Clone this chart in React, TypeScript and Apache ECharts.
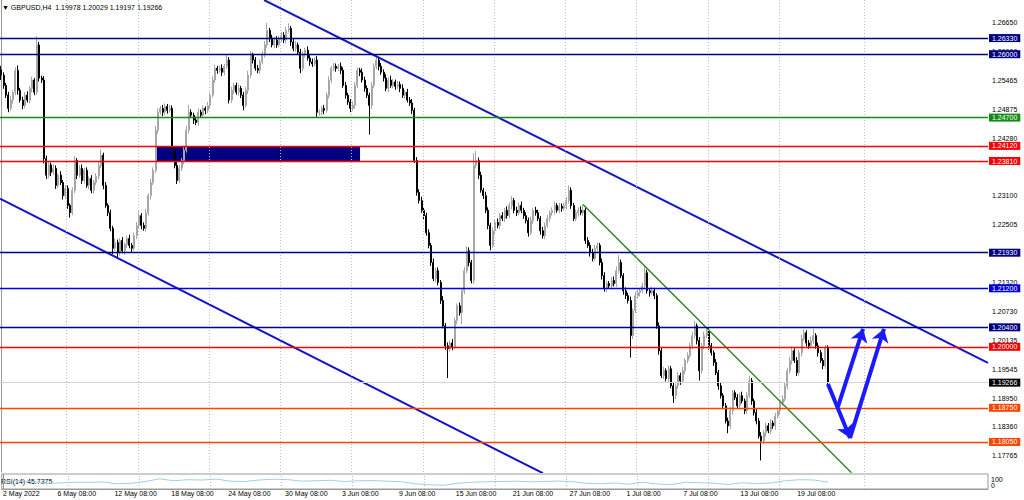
import React, { useEffect, useRef } from "react";
import * as echarts from "echarts";

// ---- data (prices in pips: value / 10000) ----
const PIP = 10000;
const firstOpen = 12568;
const closes = [
  12557, 12536, 12516, 12489, 12506, 12522, 12567, 12526, 12506, 12495,
  12516, 12506, 12530, 12547, 12522, 12619, 12551, 12547, 12386, 12352,
  12373, 12358, 12366, 12331, 12352, 12337, 12310, 12325, 12290, 12275,
  12321, 12382, 12352, 12366, 12341, 12362, 12331, 12345, 12321, 12337,
  12350, 12372, 12393, 12331, 12290, 12275, 12243, 12202, 12214, 12193,
  12218, 12197, 12210, 12222, 12208, 12202, 12228, 12249, 12269, 12249,
  12243, 12275, 12310, 12337, 12362, 12444, 12481, 12489, 12481, 12493,
  12485, 12489, 12403, 12372, 12341, 12366, 12382, 12403, 12444, 12481,
  12475, 12465, 12460, 12481, 12475, 12489, 12485, 12495, 12516, 12547,
  12571, 12567, 12571, 12563, 12575, 12588, 12506, 12526, 12536, 12522,
  12530, 12516, 12495, 12526, 12557, 12598, 12588, 12571, 12567, 12584,
  12600, 12619, 12649, 12633, 12619, 12629, 12619, 12633, 12639, 12629,
  12649, 12653, 12625, 12612, 12619, 12604, 12571, 12600, 12608, 12592,
  12584, 12580, 12588, 12481, 12481, 12489, 12485, 12516, 12547, 12571,
  12575, 12571, 12575, 12567, 12536, 12516, 12502, 12489, 12495, 12536,
  12567, 12563, 12547, 12530, 12516, 12495, 12536, 12575, 12588, 12575,
  12563, 12551, 12530, 12547, 12536, 12543, 12534, 12538, 12530, 12516,
  12522, 12506, 12500, 12485, 12382, 12317, 12300, 12280, 12269, 12234,
  12208, 12173, 12140, 12156, 12132, 12095, 12043, 12002, 11996, 12008,
  12000, 12054, 12084, 12070, 12115, 12156, 12197, 12173, 12136, 12372,
  12382, 12352, 12321, 12310, 12280, 12249, 12208, 12238, 12255, 12249,
  12269, 12263, 12280, 12269, 12290, 12300, 12280, 12275, 12290, 12280,
  12269, 12259, 12234, 12259, 12280, 12275, 12263, 12238, 12228, 12249,
  12263, 12275, 12280, 12290, 12280, 12288, 12284, 12290, 12300, 12321,
  12290, 12263, 12275, 12280, 12275, 12280, 12218, 12208, 12193, 12181,
  12202, 12208, 12173, 12146, 12119, 12130, 12125, 12136, 12130, 12156,
  12173, 12146, 12115, 12105, 12095, 12023, 12074, 12105, 12111, 12115,
  12125, 12152, 12115, 12111, 12115, 12105, 12043, 11992, 11941, 11951,
  11935, 11955, 11920, 11900, 11920, 11941, 11930, 11951, 11972, 11982,
  12002, 12023, 12043, 12013, 11951, 12002, 12023, 12033, 12002, 11988,
  11968, 11947, 11920, 11900, 11879, 11848, 11838, 11869, 11906, 11896,
  11879, 11900, 11889, 11869, 11900, 11930, 11889, 11865, 11848, 11817,
  11807, 11824, 11838, 11828, 11844, 11838, 11858, 11869, 11885, 11893,
  11920, 11951, 11972, 11992, 11972, 11947, 11988, 12017, 12029, 12008,
  12002, 12013, 12023, 12002, 11988, 11972, 11961, 11998, 11927,
];
const upperWicks = [
  8, 6, 5, 7, 9, 4, 6, 10, 5, 7,
  6, 8, 5, 7, 4, 18, 6, 5, 8, 6,
  7, 5, 9, 6, 4, 8, 5, 7, 6, 4,
  6, 9, 5, 7, 8, 5, 6, 4, 7, 5,
  6, 8, 12, 5, 7, 4, 6, 5, 8, 6,
  5, 7, 4, 6, 8, 5, 6, 7, 9, 5,
  6, 8, 5, 7, 6, 9, 8, 5, 7, 6,
  5, 7, 6, 4, 8, 6, 5, 7, 9, 15,
  6, 5, 7, 8, 5, 6, 4, 7, 6, 8,
  7, 5, 6, 8, 5, 10, 6, 7, 5, 6,
  8, 5, 7, 6, 9, 8, 5, 6, 7, 5,
  6, 8, 15, 5, 7, 6, 8, 5, 7, 6,
  7, 10, 5, 6, 8, 5, 7, 6, 5, 8,
  6, 7, 5, 8, 6, 5, 7, 6, 8, 5,
  7, 6, 5, 8, 6, 7, 5, 6, 8, 7,
  6, 5, 8, 7, 6, 5, 7, 6, 12, 5,
  7, 6, 8, 5, 9, 6, 5, 7, 6, 8,
  5, 7, 6, 8, 5, 7, 6, 8, 5, 6,
  7, 5, 8, 6, 7, 5, 9, 6, 7, 5,
  8, 6, 5, 7, 6, 8, 9, 7, 5, 25,
  20, 6, 7, 5, 8, 6, 5, 7, 6, 8,
  6, 7, 5, 8, 6, 9, 5, 7, 6, 8,
  5, 7, 6, 8, 5, 7, 6, 5, 8, 6,
  7, 5, 6, 8, 5, 7, 6, 5, 7, 10,
  6, 5, 7, 6, 8, 12, 5, 7, 6, 8,
  7, 6, 5, 8, 7, 6, 5, 7, 8, 9,
  15, 6, 5, 7, 6, 8, 5, 7, 6, 5,
  7, 12, 6, 5, 8, 6, 5, 7, 6, 8,
  5, 7, 6, 8, 5, 7, 6, 8, 5, 7,
  6, 8, 10, 5, 7, 6, 8, 5, 7, 6,
  5, 7, 6, 8, 5, 6, 7, 8, 6, 5,
  7, 6, 8, 5, 7, 10, 6, 5, 7, 6,
  8, 5, 7, 6, 8, 5, 7, 6, 5, 8,
  7, 6, 8, 9, 5, 7, 6, 8, 7, 5,
  6, 8, 14, 5, 7, 6, 5, 6, 5,
];
const lowerWicks = [
  10, 7, 6, 8, 5, 7, 6, 9, 5, 8,
  6, 5, 7, 8, 6, 5, 7, 6, 10, 8,
  6, 8, 5, 7, 6, 5, 8, 6, 7, 10,
  5, 6, 8, 5, 7, 6, 5, 8, 6, 7,
  5, 7, 6, 8, 5, 7, 6, 12, 5, 10,
  6, 5, 8, 7, 6, 9, 5, 7, 6, 8,
  5, 7, 6, 8, 5, 6, 7, 5, 8, 6,
  7, 5, 8, 6, 7, 5, 6, 8, 5, 7,
  6, 8, 5, 7, 6, 5, 8, 6, 7, 5,
  6, 7, 5, 8, 6, 5, 7, 6, 8, 5,
  7, 6, 10, 5, 8, 6, 7, 5, 6, 8,
  5, 7, 6, 8, 5, 7, 6, 5, 8, 6,
  7, 5, 8, 6, 7, 5, 10, 6, 7, 5,
  8, 6, 5, 10, 7, 6, 8, 5, 7, 6,
  5, 7, 6, 8, 5, 7, 6, 8, 5, 7,
  6, 8, 5, 7, 6, 60, 7, 5, 6, 8,
  5, 7, 6, 8, 5, 6, 7, 5, 8, 6,
  7, 5, 6, 8, 5, 7, 6, 5, 8, 6,
  6, 7, 5, 8, 6, 7, 5, 8, 60, 6,
  7, 5, 8, 6, 24, 7, 5, 8, 6, 7,
  6, 8, 5, 7, 6, 8, 10, 5, 7, 6,
  8, 5, 7, 6, 5, 8, 6, 7, 5, 6,
  7, 6, 8, 5, 7, 6, 5, 8, 6, 7,
  5, 7, 6, 8, 5, 6, 7, 5, 8, 6,
  7, 5, 6, 8, 5, 6, 7, 5, 8, 6,
  5, 7, 6, 8, 6, 7, 5, 8, 6, 7,
  6, 5, 8, 7, 6, 45, 7, 5, 6, 8,
  5, 7, 6, 8, 5, 7, 6, 8, 5, 7,
  6, 8, 5, 15, 7, 6, 8, 5, 7, 6,
  5, 7, 6, 8, 20, 6, 7, 5, 8, 6,
  7, 5, 8, 6, 7, 5, 15, 6, 8, 5,
  6, 8, 5, 7, 6, 5, 8, 6, 7, 5,
  40, 6, 8, 5, 7, 6, 8, 5, 7, 6,
  5, 7, 6, 8, 5, 7, 6, 8, 5, 7,
  6, 5, 7, 6, 8, 5, 7, 6, 7,
];

const rsiIndex = [
  0, 6, 12, 18, 24, 30, 36, 42, 48, 54,
  60, 66, 72, 78, 84, 90, 96, 102, 108, 114,
  120, 126, 132, 138, 144, 150, 156, 162, 168, 174,
  180, 186, 192, 198, 204, 210, 216, 222, 228, 234,
  240, 246, 252, 258, 264, 270, 276, 282, 288, 294,
  300, 306, 312, 318, 324, 330, 336, 342, 348,
];
const rsiValues = [
  52, 55, 50, 38, 40, 45, 44, 47, 35, 38,
  50, 68, 55, 62, 60, 66, 52, 50, 60, 65,
  63, 52, 55, 58, 50, 55, 56, 52, 48, 35,
  28, 25, 38, 45, 48, 50, 52, 48, 50, 53,
  50, 38, 35, 40, 32, 45, 33, 30, 45, 42,
  38, 30, 42, 35, 40, 55, 62, 60, 45.7375,
];

const totalSlots = 416;
const timeTickIndex = [0, 23, 47, 71, 95, 119, 143, 167, 191, 215, 239, 263, 287, 311, 335];
const timeTickLabels = [
  "2 May 2022", "6 May 08:00", "12 May 08:00", "18 May 08:00", "24 May 08:00",
  "30 May 08:00", "3 Jun 08:00", "9 Jun 08:00", "15 Jun 08:00", "21 Jun 08:00",
  "27 Jun 08:00", "1 Jul 08:00", "7 Jul 08:00", "13 Jul 08:00", "19 Jul 08:00",
];
// week separators (bar boundary index)
const weekGridIndex = [28, 58, 88, 118, 148, 178, 208, 238, 268, 298, 328, 364];
const priceTicks = [
  1.2665, 1.2606, 1.25465, 1.24875, 1.2428, 1.231, 1.22505,
  1.2132, 1.2073, 1.20135, 1.19545, 1.1895, 1.1836, 1.17765,
];

const levelPrices = [1.2633, 1.26, 1.247, 1.2412, 1.2381, 1.2193, 1.212, 1.204, 1.2, 1.1875, 1.1805];
const levelColors = ["#000080", "#000080", "#158a15", "#ff0000", "#ff0000", "#000080", "#0000dd", "#000080", "#ff0000", "#ff4500", "#ff4500"];
const bidPrice = 1.19266;

// trend lines: [barIndex, price]
const upperTrend = [[110.7, 1.2711], [415.5, 1.1967]];
const lowerTrend = [[-0.5, 1.2304], [228.1, 1.1741]];
const greenTrend = [[245, 1.2292], [358.2, 1.1741]];
const zoneBox = [[65.6, 1.2412], [151.1, 1.2381]];
const arrows = [
  [[348.1, 1.1924], [357.4, 1.1813]],
  [[352.3, 1.1877], [362.9, 1.2037]],
  [[357.4, 1.1813], [371.7, 1.2037]],
];

const FONT = "Liberation Sans";

export default function App() {
  const ref = useRef<HTMLDivElement>(null);
  useEffect(() => {
    if (!ref.current) return;
    const chart = echarts.init(ref.current, undefined, { renderer: "svg" });

    const candles = closes.map((c, i) => {
      const o = i === 0 ? firstOpen : closes[i - 1];
      const hi = Math.max(o, c) + upperWicks[i];
      const lo = Math.min(o, c) - lowerWicks[i];
      return [o / PIP, c / PIP, lo / PIP, hi / PIP];
    });
    const cats = Array.from({ length: totalSlots }, (_, i) => String(i));
    const labelMap = new Map<number, string>();
    timeTickIndex.forEach((idx, k) => labelMap.set(idx, timeTickLabels[k]));

    const tagLabel = (text: string, bg: string) => ({
      show: true,
      position: "end",
      distance: 1,
      formatter: text,
      backgroundColor: bg,
      color: "#ffffff",
      fontSize: 7,
      fontFamily: FONT,
      padding: [1, 3, 0, 3],
    });
    const levelLines: any[] = levelPrices.map((p, k) => ({
      yAxis: p,
      lineStyle: { color: levelColors[k], width: 1.3, type: "solid" },
      label: tagLabel(p.toFixed(5), levelColors[k]),
    }));
    levelLines.unshift({
      yAxis: bidPrice,
      lineStyle: { color: "#d4d4d4", width: 1, type: "solid" },
      label: tagLabel(bidPrice.toFixed(5), "#000000"),
    });
    const weekLines = weekGridIndex.map((b) => ({ xAxis: b - 0.5 }));
    const weekMarkLine = {
      silent: true,
      symbol: "none",
      precision: 6,
      label: { show: false },
      lineStyle: { color: "#bdbdbd", width: 1, type: [1, 2] },
      data: weekLines,
    };

    const option: any = {
      animation: false,
      backgroundColor: "#ffffff",
      textStyle: { fontFamily: FONT },
      grid: [
        { left: 0, top: 0, width: 988, height: 472, show: false },
        { left: 0, top: 474, width: 988, height: 15, show: true, borderColor: "#9a9a9a", borderWidth: 1 },
      ],
      xAxis: [
        {
          type: "category", gridIndex: 0, data: cats, boundaryGap: true,
          axisLine: { show: false }, axisTick: { show: false }, axisLabel: { show: false },
          splitLine: { show: false },
        },
        { type: "value", gridIndex: 0, min: -0.5, max: totalSlots - 0.5, show: false },
        {
          type: "category", gridIndex: 1, data: cats, boundaryGap: true,
          axisLine: { show: true, lineStyle: { color: "#9a9a9a" } }, axisTick: { show: false },
          axisLabel: {
            show: true,
            interval: (i: number) => labelMap.has(i),
            formatter: (v: string) => labelMap.get(Number(v)) || "",
            align: "left", fontSize: 7, color: "#000", margin: 1, fontFamily: FONT,
          },
          splitLine: { show: false },
        },
        { type: "value", gridIndex: 1, min: -0.5, max: totalSlots - 0.5, show: false },
      ],
      yAxis: [
        {
          type: "value", gridIndex: 0, position: "right", min: 1.17434, max: 1.27111,
          axisLine: { show: true, lineStyle: { color: "#9a9a9a" } },
          axisTick: { show: false }, splitLine: { show: false },
          axisLabel: {
            customValues: priceTicks,
            formatter: (v: number) => v.toFixed(5),
            fontSize: 7, color: "#000", margin: 4, fontFamily: FONT,
          },
        },
        {
          type: "value", gridIndex: 1, position: "right", min: 0, max: 100,
          axisLine: { show: true, lineStyle: { color: "#9a9a9a" } },
          axisTick: { show: false }, splitLine: { show: false }, axisLabel: { show: false },
        },
      ],
      series: [
        {
          type: "line", xAxisIndex: 1, yAxisIndex: 0, data: [], symbol: "none", silent: true, z: 0,
          markLine: weekMarkLine,
        },
        {
          type: "line", xAxisIndex: 3, yAxisIndex: 1, data: [], symbol: "none", silent: true, z: 0,
          markLine: weekMarkLine,
        },
        {
          type: "line", xAxisIndex: 1, yAxisIndex: 0, data: lowerTrend, symbol: "none", silent: true,
          lineStyle: { color: "#1414c8", width: 2 },
          markArea: {
            silent: true,
            precision: 6,
            itemStyle: { color: "#000080", opacity: 1 },
            data: [[{ coord: zoneBox[0] }, { coord: zoneBox[1] }]],
          },
        },
        {
          type: "candlestick", xAxisIndex: 0, yAxisIndex: 0, data: candles, barWidth: 1.6,
          itemStyle: { color: "#e4e4e4", color0: "#000000", borderColor: "#a6a6a6", borderColor0: "#000000", borderWidth: 1 },
        },
        {
          type: "line", xAxisIndex: 1, yAxisIndex: 0, data: [], symbol: "none", silent: true, z: 3,
          markLine: { symbol: "none", silent: true, precision: 6, data: levelLines },
        },
        {
          type: "line", xAxisIndex: 1, yAxisIndex: 0, data: upperTrend, symbol: "none", silent: true, z: 4,
          lineStyle: { color: "#1414c8", width: 2 },
        },
        {
          type: "line", xAxisIndex: 1, yAxisIndex: 0, data: greenTrend, symbol: "none", silent: true, z: 4,
          lineStyle: { color: "#2f8a24", width: 1.5 },
        },
        {
          type: "line", xAxisIndex: 1, yAxisIndex: 0, data: [], symbol: "none", silent: true, z: 5,
          markLine: {
            silent: true,
            precision: 6,
            symbol: ["none", "arrow"],
            symbolSize: 13,
            label: { show: false },
            lineStyle: { color: "#1a1aff", width: 4, type: "solid" },
            data: arrows.map((a) => [{ coord: a[0] }, { coord: a[1] }]),
          },
        },
        {
          type: "line", xAxisIndex: 3, yAxisIndex: 1, symbol: "none", silent: true,
          data: rsiIndex.map((x, k) => [x, rsiValues[k]]),
          lineStyle: { color: "#9fd0e4", width: 1 },
        },
      ],
      graphic: [
        {
          type: "text", x: 2, y: 7,
          style: { text: "▼ GBPUSD,H4  1.19978 1.20029 1.19197 1.19266", fontSize: 7, fontFamily: FONT, fill: "#000", verticalAlign: "middle" },
        },
        {
          type: "text", x: 1, y: 481,
          style: { text: "RSI(14) 45.7375", fontSize: 7, fontFamily: FONT, fill: "#000", verticalAlign: "middle" },
        },
        {
          type: "text", x: 991, y: 479,
          style: { text: "100", fontSize: 7, fontFamily: FONT, fill: "#000", verticalAlign: "middle" },
        },
        {
          type: "text", x: 991, y: 485,
          style: { text: "0", fontSize: 7, fontFamily: FONT, fill: "#000", verticalAlign: "middle" },
        },
      ],
    };
    chart.setOption(option);
    return () => chart.dispose();
  }, []);
  return (
    <div
      ref={ref}
      style={{ position: "absolute", left: 0, top: 0, width: 1024, height: 500, background: "#fff" }}
    />
  );
}
